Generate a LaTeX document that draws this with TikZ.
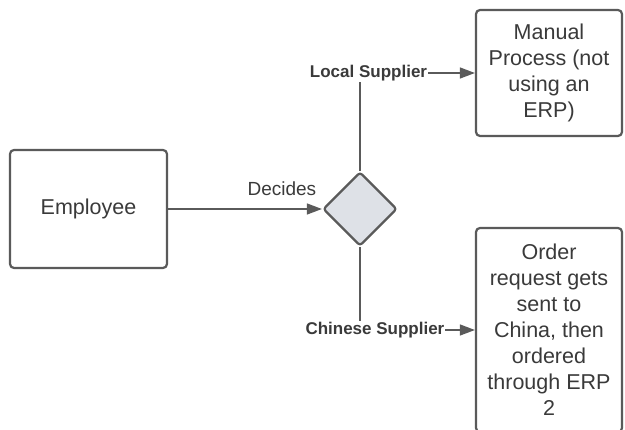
\documentclass[tikz,border=0pt]{standalone}
\usepackage{fontspec}
\setmainfont{Liberation Sans}
\usepackage{xcolor}
\usepackage{tikz}
\usetikzlibrary{shapes.geometric, arrows.meta, positioning, calc}

\begin{document}
\begin{tikzpicture}[x=1pt, y=-1pt]
% --- CORES, CAIXAS ARREDONDADAS E LOSANGO DE DECISAO ---
\definecolor{borda}{HTML}{5A5A5A}
\definecolor{texto}{HTML}{3A3A3A}
\definecolor{losango}{HTML}{DEE1E7}
\tikzset{
  caixa/.style={draw=borda, line width=2.2pt, rounded corners=4pt, fill=white,
    text=texto, align=center, inner sep=0pt,
    font=\fontsize{21.5}{26}\selectfont},
  decisao/.style={diamond, draw=borda, line width=2.2pt, rounded corners=3pt,
    fill=losango, minimum width=74pt, minimum height=74pt, inner sep=0pt},
  conector/.style={draw=borda, line width=1.3pt, -{Triangle[length=15pt, width=11pt]}},
  rotulo/.style={fill=white, inner sep=1pt, text=texto,
    font=\fontsize{17}{20}\selectfont\bfseries},
}
\useasboundingbox (0,0) rectangle (625,430);

% LAYER 1: Caixas e decisao
\node[caixa, minimum width=157pt, minimum height=118pt] (employee) at (88.5,209) {Employee};
\node[decisao] (choice) at (360,209) {};
\node[caixa, minimum width=146pt, minimum height=126pt] (manual) at (549,73)
  {Manual\\Process (not\\using an\\ERP)};
\node[caixa, minimum width=146pt, minimum height=204pt] (order) at (549,330)
  {Order\\request gets\\sent to\\China, then\\ordered\\through ERP\\2};

% LAYER 2: Conectores com rotulos
\draw[conector] (employee.east) -- (choice.west)
  node[pos=0.74, above=12.7pt, anchor=south, text=texto, inner sep=0pt,
       font=\fontsize{19}{22}\selectfont] (decides) {Decides};
\draw[conector] (choice.north) |- (manual.west)
  node[rotulo, pos=0.537] (local) {Local Supplier};
\draw[conector] (choice.south) |- (order.west)
  node[rotulo, pos=0.565] (chinese) {Chinese Supplier};
\end{tikzpicture}
\end{document}
